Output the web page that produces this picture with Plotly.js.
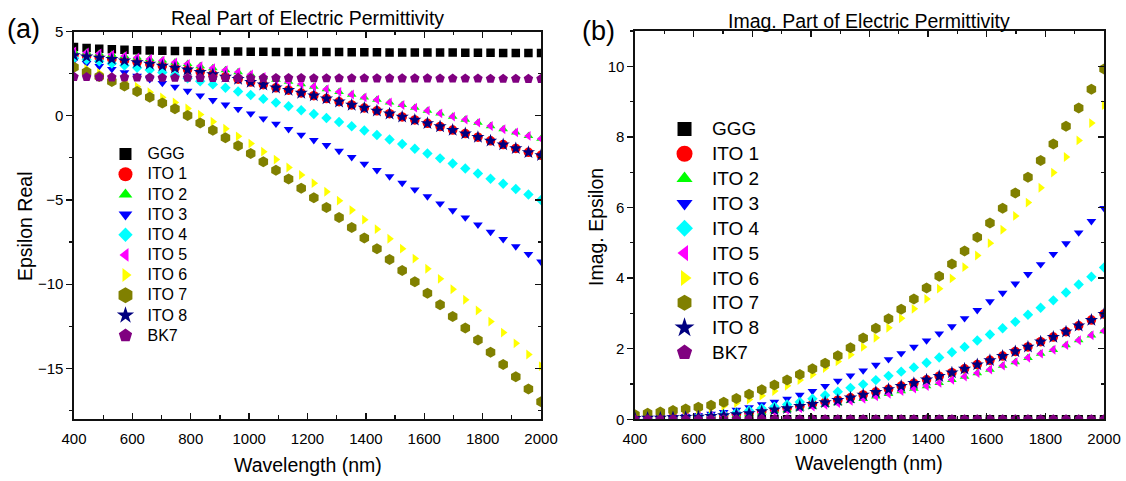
<!DOCTYPE html>
<html><head><meta charset="utf-8">
<script src="https://cdn.plot.ly/plotly-3.0.1.min.js"></script>
<style>html,body{margin:0;padding:0;background:#fff}#chart{width:1126px;height:481px}</style>
</head><body><div id="chart"></div>
<script>
// Wavelength grid (nm)
const wavelength = [400,443.2,486.5,529.7,573,616.2,659.5,702.7,745.9,789.2,832.4,875.7,918.9,962.2,1005.4,1048.6,1091.9,1135.1,1178.4,1221.6,1264.9,1308.1,1351.4,1394.6,1437.8,1481.1,1524.3,1567.6,1610.8,1654.1,1697.3,1740.5,1783.8,1827,1870.3,1913.5,1956.8,2000];

const seriesNames = ['GGG','ITO 1','ITO 2','ITO 3','ITO 4','ITO 5','ITO 6','ITO 7','ITO 8','BK7'];

// Real part
const gggReal  = [4.08,4.02,3.97,3.94,3.91,3.89,3.87,3.86,3.85,3.84,3.83,3.82,3.81,3.81,3.80,3.80,3.79,3.79,3.79,3.78,3.78,3.78,3.77,3.77,3.77,3.76,3.76,3.76,3.75,3.75,3.75,3.74,3.74,3.74,3.73,3.73,3.72,3.72];
const ito1Real = [3.58,3.51,3.44,3.36,3.27,3.17,3.07,2.96,2.84,2.73,2.59,2.45,2.31,2.17,2.00,1.84,1.66,1.52,1.35,1.19,1.02,0.83,0.64,0.46,0.29,0.12,-0.07,-0.25,-0.45,-0.64,-0.85,-1.06,-1.27,-1.49,-1.71,-1.94,-2.17,-2.35];
const ito2Real = [3.82,3.76,3.70,3.63,3.55,3.46,3.37,3.28,3.17,3.08,2.95,2.83,2.71,2.59,2.45,2.30,2.15,2.02,1.88,1.73,1.58,1.42,1.26,1.09,0.95,0.79,0.64,0.48,0.30,0.14,-0.05,-0.23,-0.41,-0.61,-0.80,-0.99,-1.20,-1.36];
const ito3Real = [3.28,3.12,2.94,2.77,2.57,2.36,2.16,1.94,1.72,1.47,1.20,0.92,0.66,0.40,0.13,-0.17,-0.48,-0.80,-1.13,-1.45,-1.75,-2.09,-2.46,-2.85,-3.23,-3.60,-3.99,-4.38,-4.79,-5.21,-5.62,-6.04,-6.47,-6.90,-7.33,-7.76,-8.21,-8.66];
const ito4Real = [3.42,3.33,3.23,3.10,2.98,2.85,2.71,2.56,2.40,2.23,2.05,1.86,1.66,1.44,1.23,1.00,0.78,0.56,0.33,0.10,-0.13,-0.37,-0.62,-0.88,-1.14,-1.41,-1.68,-1.96,-2.24,-2.53,-2.83,-3.13,-3.43,-3.74,-4.04,-4.35,-4.67,-5.00];
const ito5Real = [3.82,3.76,3.70,3.63,3.55,3.46,3.37,3.28,3.17,3.08,2.95,2.83,2.71,2.59,2.45,2.30,2.15,2.02,1.88,1.73,1.58,1.42,1.26,1.09,0.95,0.79,0.64,0.48,0.30,0.14,-0.05,-0.23,-0.41,-0.61,-0.80,-0.99,-1.20,-1.36];
const ito6Real = [3.00,2.78,2.54,2.27,2.01,1.72,1.40,1.09,0.79,0.43,0.07,-0.35,-0.77,-1.22,-1.65,-2.13,-2.60,-3.07,-3.51,-4.00,-4.51,-5.04,-5.60,-6.17,-6.73,-7.30,-7.89,-8.48,-9.08,-9.68,-10.30,-10.92,-11.56,-12.22,-12.87,-13.51,-14.17,-14.86];
const ito7Real = [2.88,2.60,2.33,2.04,1.77,1.44,1.10,0.75,0.41,0.01,-0.43,-0.86,-1.31,-1.78,-2.24,-2.73,-3.23,-3.75,-4.30,-4.87,-5.45,-6.04,-6.64,-7.26,-7.89,-8.53,-9.19,-9.86,-10.54,-11.22,-11.91,-12.60,-13.31,-14.04,-14.76,-15.49,-16.22,-16.98];
const ito8Real = [3.58,3.51,3.44,3.36,3.27,3.17,3.07,2.96,2.84,2.73,2.59,2.45,2.31,2.17,2.00,1.84,1.66,1.52,1.35,1.19,1.02,0.83,0.64,0.46,0.29,0.12,-0.07,-0.25,-0.45,-0.64,-0.85,-1.06,-1.27,-1.49,-1.71,-1.94,-2.17,-2.35];
const bk7Real  = [2.31,2.30,2.29,2.28,2.28,2.27,2.27,2.26,2.26,2.26,2.25,2.25,2.25,2.25,2.24,2.24,2.24,2.24,2.24,2.23,2.23,2.23,2.23,2.23,2.22,2.22,2.22,2.22,2.22,2.21,2.21,2.21,2.21,2.20,2.20,2.20,2.19,2.19];

// Imaginary part
const gggImag  = [0,0,0,0,0,0,0,0,0,0,0,0,0,0,0,0,0,0,0,0,0,0,0,0,0,0,0,0,0,0,0,0,0,0,0,0,0,0];
const ito1Imag = [0.03,0.04,0.04,0.05,0.06,0.07,0.09,0.11,0.14,0.17,0.22,0.27,0.31,0.37,0.43,0.48,0.54,0.61,0.69,0.77,0.85,0.94,1.02,1.12,1.22,1.32,1.43,1.55,1.67,1.79,1.92,2.05,2.20,2.33,2.48,2.65,2.81,2.98];
const ito2Imag = [0.03,0.03,0.03,0.04,0.05,0.06,0.08,0.09,0.12,0.15,0.19,0.23,0.26,0.31,0.36,0.41,0.46,0.52,0.58,0.65,0.72,0.80,0.87,0.94,1.03,1.12,1.21,1.31,1.41,1.52,1.62,1.74,1.86,1.97,2.10,2.24,2.38,2.50];
const ito3Imag = [0.03,0.04,0.05,0.06,0.08,0.11,0.15,0.20,0.27,0.34,0.42,0.49,0.58,0.69,0.80,0.94,1.09,1.24,1.38,1.54,1.70,1.87,2.05,2.23,2.43,2.63,2.86,3.09,3.34,3.58,3.84,4.11,4.39,4.68,4.98,5.29,5.61,5.98];
const ito4Imag = [0.02,0.03,0.04,0.04,0.06,0.08,0.11,0.14,0.19,0.25,0.31,0.36,0.42,0.49,0.58,0.68,0.78,0.89,0.99,1.11,1.23,1.35,1.47,1.60,1.75,1.90,2.05,2.23,2.40,2.58,2.76,2.96,3.16,3.37,3.59,3.82,4.04,4.30];
const ito5Imag = [0.03,0.03,0.03,0.04,0.05,0.06,0.08,0.09,0.12,0.15,0.19,0.23,0.26,0.31,0.36,0.41,0.46,0.52,0.58,0.65,0.72,0.80,0.87,0.94,1.03,1.12,1.21,1.31,1.41,1.52,1.62,1.74,1.86,1.97,2.10,2.24,2.38,2.50];
const ito6Imag = [0.10,0.13,0.16,0.19,0.23,0.27,0.31,0.38,0.46,0.56,0.67,0.80,0.95,1.11,1.27,1.45,1.64,1.83,2.05,2.31,2.59,2.86,3.13,3.41,3.70,3.99,4.31,4.64,4.99,5.37,5.76,6.14,6.56,6.99,7.43,7.90,8.39,8.90];
const ito7Imag = [0.13,0.17,0.21,0.25,0.29,0.34,0.40,0.48,0.59,0.71,0.84,0.97,1.11,1.27,1.43,1.59,1.80,2.03,2.30,2.58,2.85,3.12,3.41,3.72,4.05,4.40,4.77,5.16,5.56,5.98,6.41,6.86,7.33,7.80,8.30,8.82,9.35,9.92];
const ito8Imag = [0.03,0.04,0.04,0.05,0.06,0.07,0.09,0.11,0.14,0.17,0.22,0.27,0.31,0.37,0.43,0.48,0.54,0.61,0.69,0.77,0.85,0.94,1.02,1.12,1.22,1.32,1.43,1.55,1.67,1.79,1.92,2.05,2.20,2.33,2.48,2.65,2.81,2.98];
const bk7Imag  = [0,0,0,0,0,0,0,0,0,0,0,0,0,0,0,0,0,0,0,0,0,0,0,0,0,0,0,0,0,0,0,0,0,0,0,0,0,0];

const realValues = [gggReal,ito1Real,ito2Real,ito3Real,ito4Real,ito5Real,ito6Real,ito7Real,ito8Real,bk7Real];
const imagValues = [gggImag,ito1Imag,ito2Imag,ito3Imag,ito4Imag,ito5Imag,ito6Imag,ito7Imag,ito8Imag,bk7Imag];

const symbols = ['square','circle','triangle-up','triangle-down','diamond','triangle-left','triangle-right','hexagon','star','pentagon'];
const colors  = ['#000000','#FF0000','#00FF00','#0000FF','#00FFFF','#FF00FF','#FFFF00','#808000','#000080','#800080'];
const sizes   = [8.5,9.5,8.5,8.5,8,8.5,8.5,11,10,10];
const legSizeA = [12,14,12,12,11,12,12,16,13,14];
const legSizeB = [14,16,14,14,13,14,14,16,15,16];

const FONT = 'Liberation Sans, Arial, sans-serif';
const traces = [];
seriesNames.forEach((name,i)=>{
  traces.push({type:'scatter',mode:'markers',x:wavelength,y:realValues[i],xaxis:'x',yaxis:'y',
    showlegend:false,hoverinfo:'skip',marker:{symbol:symbols[i],color:colors[i],size:sizes[i]}});
});
seriesNames.forEach((name,i)=>{
  traces.push({type:'scatter',mode:'markers',x:wavelength,y:imagValues[i],xaxis:'x2',yaxis:'y2',
    showlegend:false,hoverinfo:'skip',marker:{symbol:symbols[i],color:colors[i],size:sizes[i]}});
});
// legend entries
seriesNames.forEach((name,i)=>{
  traces.push({type:'scatter',mode:'markers',x:[null],y:[null],xaxis:'x',yaxis:'y',
    name:'<span style="font-size:16px">'+name+'</span>',legend:'legend',
    marker:{symbol:symbols[i],color:colors[i],size:legSizeA[i]}});
});
seriesNames.forEach((name,i)=>{
  traces.push({type:'scatter',mode:'markers',x:[null],y:[null],xaxis:'x2',yaxis:'y2',
    name:'<span style="font-size:19px">'+name+'</span>',legend:'legend2',
    marker:{symbol:symbols[i],color:colors[i],size:legSizeB[i]}});
});
// helpers for right-side inner ticks
traces.push({type:'scatter',mode:'markers',x:[null],y:[null],xaxis:'x',yaxis:'y3',showlegend:false,hoverinfo:'skip'});
traces.push({type:'scatter',mode:'markers',x:[null],y:[null],xaxis:'x2',yaxis:'y4',showlegend:false,hoverinfo:'skip'});

const axCol = '#111';
const xBase = {range:[400,2000],autorange:false,dtick:200,tick0:400,ticks:'inside',ticklen:6,tickwidth:1.3,tickcolor:axCol,
  minor:{ticks:'inside',ticklen:3.5,tickwidth:1.2,tickcolor:axCol,dtick:100,showgrid:false},
  showline:true,linecolor:axCol,linewidth:1.6,mirror:'ticks',showgrid:false,zeroline:false,
  tickfont:{family:FONT,size:15,color:'#000'},ticklabelstandoff:5};
const yLeftBase = {ticks:'outside',ticklen:6,tickwidth:1.3,tickcolor:axCol,showline:true,linecolor:axCol,linewidth:1.6,
  mirror:true,showgrid:false,zeroline:false,tickfont:{family:FONT,size:15,color:'#000'}};
const yRightBase = {ticks:'inside',ticklen:6,tickwidth:1.3,tickcolor:axCol,showline:false,showgrid:false,zeroline:false,
  showticklabels:false,side:'right'};

const layout = {
  width:1126,height:481,margin:{l:0,r:0,t:0,b:0},paper_bgcolor:'#fff',plot_bgcolor:'rgba(0,0,0,0)',
  font:{family:FONT,color:'#000'},
  xaxis:Object.assign({},xBase,{domain:[0.0657,0.4805],anchor:'y'}),
  xaxis2:Object.assign({},xBase,{domain:[0.5639,0.9805],anchor:'y2'}),
  yaxis:Object.assign({},yLeftBase,{domain:[0.1289,0.9345],anchor:'x',range:[-18,5],autorange:false,dtick:5,tick0:0,
    minor:{ticks:'outside',ticklen:3.5,tickwidth:1.2,tickcolor:axCol,dtick:2.5,showgrid:false}}),
  yaxis2:Object.assign({},yLeftBase,{domain:[0.1283,0.9356],anchor:'x2',range:[0,11],autorange:false,dtick:2,tick0:0,
    minor:{ticks:'outside',ticklen:3.5,tickwidth:1.2,tickcolor:axCol,dtick:1,showgrid:false}}),
  yaxis3:Object.assign({},yRightBase,{overlaying:'y',anchor:'x',range:[-18,5],autorange:false,dtick:5,tick0:0,
    minor:{ticks:'inside',ticklen:3.5,tickwidth:1.2,tickcolor:axCol,dtick:2.5,showgrid:false}}),
  yaxis4:Object.assign({},yRightBase,{overlaying:'y2',anchor:'x2',range:[0,11],autorange:false,dtick:2,tick0:0,
    minor:{ticks:'inside',ticklen:3.5,tickwidth:1.2,tickcolor:axCol,dtick:1,showgrid:false}}),
  legend:{x:0.0919,y:0.711,xanchor:'left',yanchor:'top',bgcolor:'rgba(0,0,0,0)',borderwidth:0,
    font:{family:FONT,size:13.2,color:'#000'},itemwidth:34,tracegroupgap:0},
  legend2:{x:0.5835,y:0.7682,xanchor:'left',yanchor:'top',bgcolor:'rgba(0,0,0,0)',borderwidth:0,
    font:{family:FONT,size:16.8,color:'#000'},itemwidth:45,tracegroupgap:0},
  annotations:[
    {text:'Real Part of Electric Permittivity',xref:'paper',yref:'paper',x:0.2731,y:0.9636,xanchor:'center',yanchor:'middle',showarrow:false,font:{family:FONT,size:19.5,color:'#000'}},
    {text:'Imag. Part of Electric Permittivity',xref:'paper',yref:'paper',x:0.7722,y:0.9563,xanchor:'center',yanchor:'middle',showarrow:false,font:{family:FONT,size:19.5,color:'#000'}},
    {text:'Wavelength (nm)',xref:'paper',yref:'paper',x:0.2731,y:0.0333,xanchor:'center',yanchor:'middle',showarrow:false,font:{family:FONT,size:19.5,color:'#000'}},
    {text:'Wavelength (nm)',xref:'paper',yref:'paper',x:0.7722,y:0.0374,xanchor:'center',yanchor:'middle',showarrow:false,font:{family:FONT,size:19.5,color:'#000'}},
    {text:'Epsilon Real',xref:'paper',yref:'paper',x:0.0222,y:0.5301,xanchor:'center',yanchor:'middle',textangle:-90,showarrow:false,font:{family:FONT,size:19.5,color:'#000'}},
    {text:'Imag. Epsilon',xref:'paper',yref:'paper',x:0.5293,y:0.528,xanchor:'center',yanchor:'middle',textangle:-90,showarrow:false,font:{family:FONT,size:19.5,color:'#000'}},
    {text:'(a)',xref:'paper',yref:'paper',x:0.0213,y:0.9398,xanchor:'center',yanchor:'middle',showarrow:false,font:{family:FONT,size:27,color:'#000'}},
    {text:'(b)',xref:'paper',yref:'paper',x:0.5311,y:0.9356,xanchor:'center',yanchor:'middle',showarrow:false,font:{family:FONT,size:27,color:'#000'}}
  ]
};
Plotly.newPlot('chart',traces,layout,{staticPlot:true,displayModeBar:false});
</script></body></html>
